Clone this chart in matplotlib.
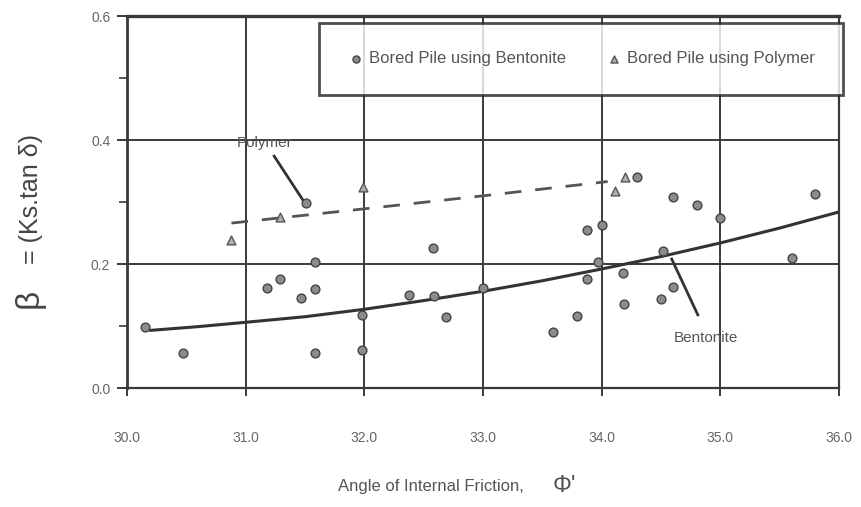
import matplotlib
matplotlib.use('Agg')
import matplotlib.pyplot as plt

plt.rcParams['font.family'] = ['Liberation Sans', 'DejaVu Sans']

# Bored piles using bentonite (circles)
bent_phi = [30.15, 30.47, 31.18, 31.29, 31.47, 31.58, 31.58, 31.58, 31.98, 31.98,
            32.38, 32.58, 32.59, 32.69, 33.0, 33.59, 33.79, 33.88, 33.88, 33.97,
            34.0, 34.18, 34.19, 34.3, 34.5, 34.52, 34.6, 34.6, 34.8, 35.0,
            35.6, 35.8, 31.51]
bent_beta = [0.098, 0.056, 0.161, 0.176, 0.145, 0.160, 0.203, 0.056, 0.061, 0.118,
             0.150, 0.226, 0.148, 0.115, 0.161, 0.091, 0.116, 0.176, 0.255, 0.203,
             0.263, 0.185, 0.135, 0.340, 0.144, 0.221, 0.163, 0.308, 0.295, 0.274,
             0.210, 0.313, 0.298]

# Bored piles using polymer (triangles)
poly_phi = [30.88, 31.29, 31.99, 34.11, 34.2]
poly_beta = [0.239, 0.276, 0.324, 0.317, 0.340]

# trend lines
bent_fit_phi = [30.2, 30.6, 31.0, 31.5, 32.0, 32.5, 33.0, 33.5, 34.0, 34.5, 35.0, 35.5, 36.0]
bent_fit_beta = [0.093, 0.099, 0.106, 0.115, 0.127, 0.141, 0.156, 0.173, 0.192,
                 0.212, 0.234, 0.258, 0.284]
poly_fit_phi = [30.88, 32.0, 33.0, 34.05]
poly_fit_beta = [0.266, 0.289, 0.310, 0.333]

x_ticks = [30.0, 31.0, 32.0, 33.0, 34.0, 35.0, 36.0]
x_labels = ['30.0', '31.0', '32.0', '33.0', '34.0', '35.0', '36.0']
y_ticks = [0.0, 0.2, 0.4, 0.6]
y_labels = ['0.0', '0.2', '0.4', '0.6']

fig = plt.figure(figsize=(8.61, 5.07), dpi=100)
ax = fig.add_axes([0.1475, 0.2347, 0.827, 0.7337])

ax.set_xlim(30.0, 36.0)
ax.set_ylim(0.0, 0.6)

gridc = '#3a3a3a'
ax.set_xticks(x_ticks)
ax.set_xticklabels(x_labels)
ax.set_yticks(y_ticks)
ax.set_yticklabels(y_labels)
ax.set_yticks([0.1, 0.3, 0.5], minor=True)
ax.grid(True, color=gridc, linewidth=1.4)
ax.tick_params(axis='x', direction='out', length=6, width=1.4, color=gridc,
               pad=25, labelsize=10, labelcolor='#666666')
ax.tick_params(axis='y', which='major', direction='out', length=7, width=1.4,
               color=gridc, pad=5, labelsize=10, labelcolor='#666666')
ax.tick_params(axis='y', which='minor', direction='out', length=6, width=1.2,
               color=gridc)
for s in ax.spines.values():
    s.set_color(gridc)
    s.set_linewidth(1.6)
ax.spines['top'].set_linewidth(2.4)
ax.spines['left'].set_linewidth(2.0)

# trend lines
ax.plot(bent_fit_phi, bent_fit_beta, color='#333333', linewidth=2.2, zorder=3)
ax.plot(poly_fit_phi, poly_fit_beta, color='#555555', linewidth=2.0,
        dashes=(6, 5), zorder=3)

# data points
ax.scatter(bent_phi, bent_beta, s=40, marker='o', facecolor='#8c8c8c',
           edgecolor='#444444', linewidth=1.0, zorder=4,
           label='Bored Pile using Bentonite')
ax.scatter(poly_phi, poly_beta, s=40, marker='^', facecolor='#b0b0b0',
           edgecolor='#555555', linewidth=1.0, zorder=4,
           label='Bored Pile using Polymer')

# callouts
ax.text(31.16, 0.395, 'Polymer', fontsize=11, color='#555555',
        ha='center', va='center')
ax.plot([31.24, 31.5], [0.374, 0.298], color='#333333', linewidth=2.0)
ax.text(34.88, 0.081, 'Bentonite', fontsize=11, color='#555555',
        ha='center', va='center')
ax.plot([34.81, 34.59], [0.118, 0.208], color='#333333', linewidth=2.0)

leg = ax.legend(loc='upper left', bbox_to_anchor=(0.27, 0.782, 0.736, 0.199),
                mode='expand', ncol=2, frameon=True, fancybox=False,
                fontsize=12, handletextpad=0.3, borderaxespad=0,
                borderpad=1.7, handlelength=1.0, markerscale=0.8)
leg.get_frame().set_edgecolor('#222222')
leg.get_frame().set_linewidth(2.0)
for t in leg.get_texts():
    t.set_color('#555555')

fig.text(0.034, 0.412, 'β', rotation=90, fontsize=24,
         color='#444444', ha='center', va='center')
fig.text(0.036, 0.607, '= (Ks.tan δ)', rotation=90, fontsize=18,
         color='#444444', ha='center', va='center')
fig.text(0.50, 0.04, 'Angle of Internal Friction,', fontsize=12,
         color='#555555', ha='center', va='center')
fig.text(0.655, 0.042, "Φ'", fontsize=17,
         color='#555555', ha='center', va='center')

fig.savefig('out.png', dpi=100)
